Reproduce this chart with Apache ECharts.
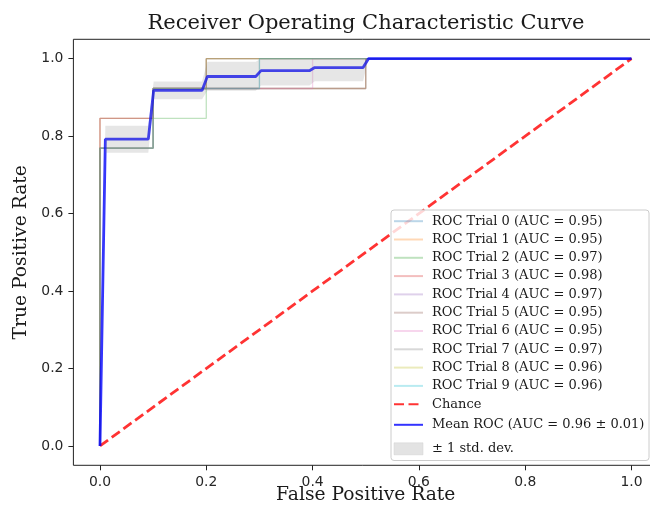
<!DOCTYPE html>
<html>
<head>
<meta charset="utf-8">
<title>ROC</title>
<script src="https://cdn.jsdelivr.net/npm/echarts@6/dist/echarts.min.js"></script>
<style>
  html, body { margin: 0; padding: 0; background: #fff; }
  #main { width: 650px; height: 516px; }
</style>
</head>
<body>
<div id="main"></div>
<script>
// tick positions on both axes
var tickValues = [0, 0.2, 0.4, 0.6, 0.8, 1.0];

// every trial curve steps at the same false positive rates
var trialFpr = [0, 0, 0.1, 0.1, 0.2, 0.2, 0.3, 0.3, 0.4, 0.4, 0.5, 0.5, 1];
var trialNames = [
  'ROC Trial 0 (AUC = 0.95)', 'ROC Trial 1 (AUC = 0.95)', 'ROC Trial 2 (AUC = 0.97)',
  'ROC Trial 3 (AUC = 0.98)', 'ROC Trial 4 (AUC = 0.97)', 'ROC Trial 5 (AUC = 0.95)',
  'ROC Trial 6 (AUC = 0.95)', 'ROC Trial 7 (AUC = 0.97)', 'ROC Trial 8 (AUC = 0.96)',
  'ROC Trial 9 (AUC = 0.96)'
];
var trialTpr = [
  [0, 0.769, 0.769, 0.923, 0.923, 0.923, 0.923, 0.923, 0.923, 0.923, 0.923, 1, 1],
  [0, 0.846, 0.846, 0.923, 0.923, 0.923, 0.923, 0.923, 0.923, 0.923, 0.923, 1, 1],
  [0, 0.769, 0.769, 0.846, 0.846, 1, 1, 1, 1, 1, 1, 1, 1],
  [0, 0.846, 0.846, 0.923, 0.923, 1, 1, 1, 1, 1, 1, 1, 1],
  [0, 0.769, 0.769, 0.923, 0.923, 1, 1, 1, 1, 1, 1, 1, 1],
  [0, 0.769, 0.769, 0.923, 0.923, 0.923, 0.923, 0.923, 0.923, 0.923, 0.923, 1, 1],
  [0, 0.769, 0.769, 0.923, 0.923, 0.923, 0.923, 0.923, 0.923, 1, 1, 1, 1],
  [0, 0.846, 0.846, 0.923, 0.923, 0.923, 0.923, 1, 1, 1, 1, 1, 1],
  [0, 0.769, 0.769, 0.923, 0.923, 1, 1, 1, 1, 1, 1, 1, 1],
  [0, 0.769, 0.769, 0.923, 0.923, 0.923, 0.923, 1, 1, 1, 1, 1, 1]
];
var trialColors = ['#1f77b4', '#ff7f0e', '#2ca02c', '#d62728', '#9467bd',
                   '#8c564b', '#e377c2', '#7f7f7f', '#bcbd22', '#17becf'];

// mean curve and its +/- 1 std band
var meanFpr   = [0, 0.0101, 0.0909, 0.101, 0.192, 0.202, 0.293, 0.303, 0.394, 0.404, 0.495, 0.505, 1];
var meanTpr   = [0, 0.792, 0.792, 0.918, 0.918, 0.954, 0.954, 0.969, 0.969, 0.977, 0.977, 1, 1];
var bandUpper = [0, 0.827, 0.827, 0.941, 0.941, 0.992, 0.992, 1, 1, 1, 1, 1, 1];
var bandLower = [0, 0.757, 0.757, 0.895, 0.895, 0.917, 0.917, 0.931, 0.931, 0.942, 0.942, 1, 1];

var chanceX = [0, 1];
var chanceY = [0, 1];

var serif = 'DejaVu Serif';
var sans = 'DejaVu Sans';

function pairs(xs, ys) {
  return xs.map(function(x, i) { return [x, ys[i]]; });
}

var chart = echarts.init(document.getElementById('main'), null, { renderer: 'canvas' });

var series = [];
trialTpr.forEach(function(tpr, k) {
  series.push({
    name: trialNames[k],
    type: 'line',
    data: pairs(trialFpr, tpr),
    showSymbol: false,
    symbol: 'none',
    animation: false,
    color: trialColors[k],
    lineStyle: { width: 1.3, color: trialColors[k], opacity: 0.3 },
    z: 2
  });
});

series.push({
  name: 'Chance',
  type: 'line',
  data: pairs(chanceX, chanceY),
  symbol: 'none',
  animation: false,
  color: '#ff0000',
  lineStyle: { width: 2.8, color: 'rgba(255,0,0,0.8)', type: [10, 4.5] },
  z: 3
});

series.push({
  name: 'Mean ROC (AUC = 0.96 \u00b1 0.01)',
  type: 'line',
  data: pairs(meanFpr, meanTpr),
  symbol: 'none',
  animation: false,
  color: '#0000ff',
  lineStyle: { width: 2.8, color: 'rgba(0,0,255,0.8)' },
  z: 4
});

series.push({
  name: '\u00b1 1 std. dev.',
  type: 'custom',
  animation: false,
  color: '#cccccc',
  data: meanFpr.map(function(x, i) { return [x, bandUpper[i], bandLower[i]]; }),
  encode: { x: 0, y: [1, 2] },
  renderItem: function(params, api) {
    if (params.dataIndex !== 0) return null;
    var pts = [];
    for (var i = 0; i < meanFpr.length; i++) {
      pts.push(api.coord([meanFpr[i], bandUpper[i]]));
    }
    for (var j = meanFpr.length - 1; j >= 0; j--) {
      pts.push(api.coord([meanFpr[j], bandLower[j]]));
    }
    return {
      type: 'polygon',
      shape: { points: pts },
      style: { fill: 'rgba(128,128,128,0.2)', stroke: null }
    };
  },
  z: 5
});

var legendText = { fontFamily: serif, fontSize: 13, color: '#1a1a1a', padding: [0, 0, 0, 4], lineHeight: 12 };

var option = {
  animation: false,
  backgroundColor: '#ffffff',
  title: {
    text: 'Receiver Operating Characteristic Curve',
    left: 361,
    textAlign: 'center',
    top: 8,
    textStyle: { fontFamily: serif, fontSize: 21, fontWeight: 'normal', color: '#1a1a1a' }
  },
  grid: {
    left: 73.4, top: 39.3, width: 584.7, height: 426,
    outerBoundsMode: 'none',
    show: true, borderColor: '#222', borderWidth: 1, backgroundColor: 'transparent'
  },
  xAxis: {
    type: 'value',
    min: -0.05, max: 1.05,
    name: 'False Positive Rate',
    nameLocation: 'middle',
    nameGap: 20.5,
    nameMoveOverlap: false,
    nameTextStyle: { fontFamily: serif, fontSize: 18.7, color: '#1a1a1a' },
    axisLine: { show: false, onZero: false },
    splitLine: { show: false },
    axisTick: { show: true, length: 5, customValues: tickValues, lineStyle: { color: '#222' } },
    axisLabel: {
      customValues: tickValues, margin: 10,
      fontFamily: sans, fontSize: 13.9, color: '#262626',
      formatter: function(v) { return v.toFixed(1); }
    }
  },
  yAxis: {
    type: 'value',
    min: -0.05, max: 1.05,
    name: 'True Positive Rate',
    nameLocation: 'middle',
    nameGap: 42.4,
    nameMoveOverlap: false,
    nameTextStyle: { fontFamily: serif, fontSize: 18.7, color: '#1a1a1a' },
    axisLine: { show: false, onZero: false },
    splitLine: { show: false },
    axisTick: { show: true, length: 5, customValues: tickValues, lineStyle: { color: '#222' } },
    axisLabel: {
      customValues: tickValues, margin: 10,
      fontFamily: sans, fontSize: 13.9, color: '#262626',
      formatter: function(v) { return v.toFixed(1); }
    }
  },
  legend: [
    {
      orient: 'vertical',
      left: 393, top: 214.7, padding: 0,
      itemWidth: 29, itemHeight: 12, itemGap: 5.3,
      data: trialNames.concat(['Chance']),
      itemStyle: { opacity: 0 },
      textStyle: legendText,
      selectedMode: false,
      z: 6
    },
    {
      orient: 'vertical',
      left: 393, top: 418.3, padding: 0,
      itemWidth: 29, itemHeight: 12, itemGap: 11,
      data: [
        { name: 'Mean ROC (AUC = 0.96 \u00b1 0.01)', itemStyle: { opacity: 0 } },
        { name: '\u00b1 1 std. dev.', icon: 'rect', itemStyle: { color: '#e3e3e3', borderColor: '#d0d0d0', borderWidth: 0.5 } }
      ],
      textStyle: legendText,
      selectedMode: false,
      z: 6
    }
  ],
  graphic: [
    {
      type: 'rect',
      left: 390.5, top: 209.5,
      shape: { width: 258, height: 250.5, r: 3 },
      style: { fill: 'rgba(255,255,255,0.8)', stroke: '#cccccc', lineWidth: 1 },
      z: 5
    }
  ],
  series: series
};

chart.setOption(option);
</script>
</body>
</html>
